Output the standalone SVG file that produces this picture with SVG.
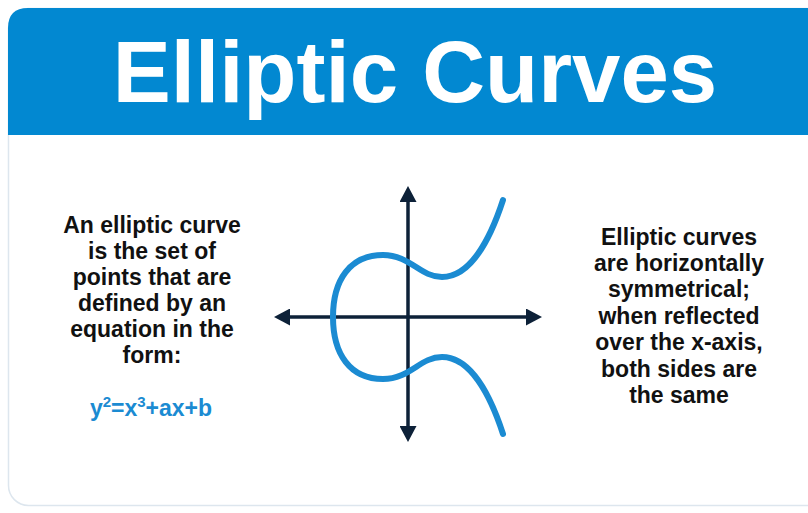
<svg xmlns="http://www.w3.org/2000/svg" width="808" height="513" viewBox="0 0 808 513">
<style>
.txt{font-family:"Liberation Sans",Arial,sans-serif;font-weight:bold;font-size:23px;fill:#111;text-anchor:middle}
.axis{stroke:#0d2138;stroke-width:3.5;fill:none}
.curve{stroke:#1b8bd2;stroke-width:6;fill:none;stroke-linecap:round}
</style>
<defs>
<marker id="ah" viewBox="0 0 16 17" refX="1" refY="8.5" markerWidth="16" markerHeight="17" markerUnits="userSpaceOnUse" orient="auto-start-reverse">
<path d="M0,0 L16,8.5 L0,17 Z" fill="#0d2138"/>
</marker>
</defs>
<rect width="808" height="513" fill="#ffffff"/>
<g id="card">
<rect x="8.5" y="8.5" width="830" height="497" rx="20" fill="#ffffff" stroke="#dde6ee" stroke-width="1.5"/>
<path d="M8 135 V28 Q8 8 28 8 H808 V135 Z" fill="#0288d1"/>
<text x="415" y="102" font-family="Liberation Sans,Arial,sans-serif" font-weight="bold" font-size="87" fill="#ffffff" text-anchor="middle">Elliptic Curves</text>
</g>
<g id="left-text">
<text class="txt" x="152" y="233">An elliptic curve</text>
<text class="txt" x="152" y="259">is the set of</text>
<text class="txt" x="152" y="285">points that are</text>
<text class="txt" x="152" y="311">defined by an</text>
<text class="txt" x="152" y="337">equation in the</text>
<text class="txt" x="152" y="363">form:</text>
<text class="txt" x="151" y="416" style="fill:#1b8bd2">y<tspan font-size="15" dy="-9">2</tspan><tspan dy="9">=x</tspan><tspan font-size="15" dy="-9">3</tspan><tspan dy="9">+ax+b</tspan></text>
</g>
<g id="right-text">
<text class="txt" x="679" y="245">Elliptic curves</text>
<text class="txt" x="679" y="271">are horizontally</text>
<text class="txt" x="679" y="297">symmetrical;</text>
<text class="txt" x="679" y="324">when reflected</text>
<text class="txt" x="679" y="350">over the x-axis,</text>
<text class="txt" x="679" y="377">both sides are</text>
<text class="txt" x="679" y="403">the same</text>
</g>
<g id="connectors">
<line class="axis" x1="289" y1="317" x2="527" y2="317" marker-start="url(#ah)" marker-end="url(#ah)"/>
<line class="axis" x1="408" y1="201" x2="408" y2="427" marker-start="url(#ah)" marker-end="url(#ah)"/>
</g>
<g id="curve">
<path class="curve" d="M333 317 C333 280 350 255 383 255 C410 255 420 277 442 277 C470 277 490 240 503 200"/>
<path class="curve" d="M333 317 C333 354 350 379 383 379 C410 379 420 357 442 357 C470 357 490 394 503 434"/>
</g>
</svg>
